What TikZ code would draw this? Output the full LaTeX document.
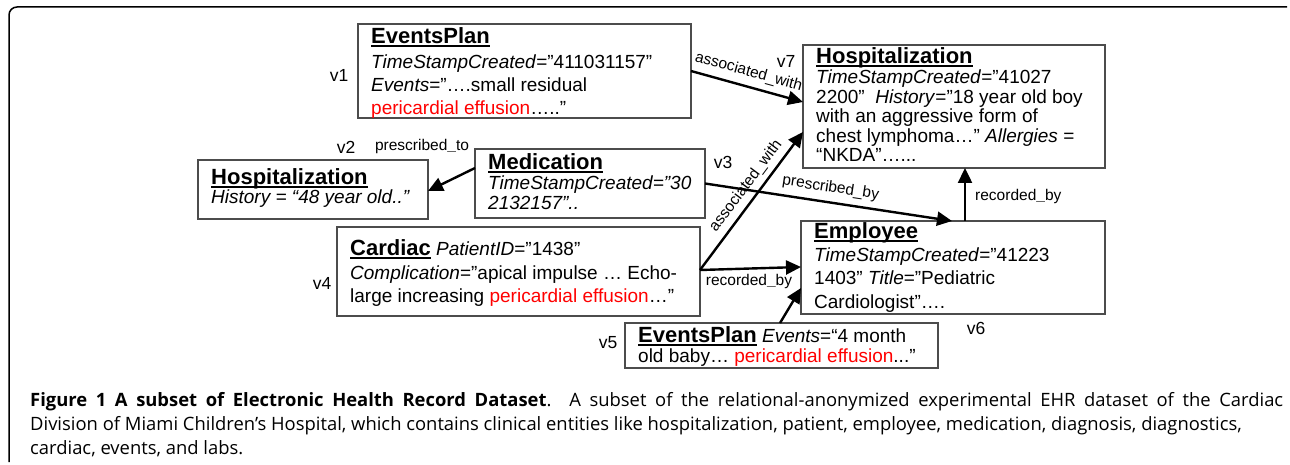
\documentclass[tikz,border=0pt]{standalone}
\usepackage{fontspec}
\setmainfont{Liberation Sans}
\newfontfamily\capfont{Open Sans}
\usetikzlibrary{arrows.meta,calc}
\newcommand\boxtitle[1]{{\fontsize{22}{23}\selectfont\bfseries\setbox0\hbox{#1}\rlap{\rule[-3.6pt]{\wd0}{1.8pt}}\box0}}
\newcommand\bus{{\bfseries\_}}
\begin{document}
\begin{tikzpicture}[x=1pt,y=-1pt,
  box/.style={draw=black!70, line width=1.3pt, anchor=north west, inner sep=0pt, outer sep=0pt},
  txt/.style={anchor=north west, inner sep=0pt, align=left},
  vlab/.style={inner sep=0pt, font=\fontsize{17.5}{20}\selectfont},
  elab/.style={inner sep=0pt, font=\fontsize{15.5}{18}\selectfont},
  conn/.style={line width=2.4pt, -{Triangle[length=15pt,width=14pt]}},
  captext/.style={anchor=base west, inner sep=0pt, font=\capfont\fontsize{18.4}{24}\selectfont},
]
\useasboundingbox (0,0) rectangle (1290,465);
% frame
\draw[line width=1.5pt, rounded corners=8pt] (1287,7) -- (9,7) -- (9,462);

% boxes
\node[box, minimum width=333, minimum height=94] (v1) at (358,24) {};
\node[box, minimum width=302, minimum height=123] (v7) at (803,45) {};
\node[box, minimum width=230, minimum height=59] (v2) at (198,160) {};
\node[box, minimum width=230, minimum height=69] (v3) at (475,149) {};
\node[box, minimum width=363, minimum height=89] (v4) at (337,227) {};
\node[box, minimum width=304, minimum height=93] (v6) at (801,221) {};
\node[box, minimum width=313, minimum height=45] (v5) at (625,323) {};

% texts
\node[txt, font=\fontsize{19}{23}\selectfont] (t1) at ($(v1.north west)+(13,2)$)
 {\rule{0pt}{17pt}\boxtitle{EventsPlan}\\[2pt]
  \textit{TimeStampCreated}=”411031157"\\
  \textit{Events}=”….small residual\\
  \textcolor{red}{pericardial effusion}…..”};
\node[txt, font=\fontsize{19}{19.5}\selectfont] (t7) at ($(v7.north west)+(13,1)$)
 {\rule{0pt}{17pt}\boxtitle{Hospitalization}\\[1pt]
  \textit{TimeStampCreated}=”41027\\
  2200"\ \ \textit{History}=”18 year old boy\\
  with an aggressive form of\\
  chest lymphoma…” \textit{Allergies} =\\
  “NKDA”…...};
\node[txt, font=\fontsize{19}{19}\selectfont] (t2) at ($(v2.north west)+(13,7)$)
 {\rule{0pt}{17pt}\boxtitle{Hospitalization}\\
  \textit{History = “48 year old..”}};
\node[txt, font=\fontsize{19}{20}\selectfont] (t3) at ($(v3.north west)+(13,3)$)
 {\rule{0pt}{17pt}\boxtitle{Medication}\\
  \textit{TimeStampCreated=”30}\\
  \textit{2132157"..}};
\node[txt, font=\fontsize{19}{22.5}\selectfont] (t4) at ($(v4.north west)+(13,11)$)
 {\rule{0pt}{17pt}\boxtitle{Cardiac} \textit{PatientID}=”1438"\\[2pt]
  \textit{Complication}=”apical impulse … Echo-\\
  large increasing \textcolor{red}{pericardial effusion}…”};
\node[txt, font=\fontsize{19}{23.3}\selectfont] (t6) at ($(v6.north west)+(13,0)$)
 {\rule{0pt}{17pt}\boxtitle{Employee}\\
  \textit{TimeStampCreated}=”41223\\
  1403" \textit{Title}=”Pediatric\\
  Cardiologist”….};
\node[txt, font=\fontsize{19}{20}\selectfont] (t5) at ($(v5.north west)+(13,2)$)
 {\rule{0pt}{17pt}\boxtitle{EventsPlan} \textit{Events}=“4 month\\
  old baby… \textcolor{red}{pericardial effusion}..."};

% vertex labels
\node[vlab] (l1) at (339,75) {v1};
\node[vlab] (l2) at (346,147) {v2};
\node[vlab] (l3) at (723,162) {v3};
\node[vlab] (l4) at (322,283) {v4};
\node[vlab] (l5) at (608,343) {v5};
\node[vlab] (l6) at (976,328) {v6};
\node[vlab] (l7) at (786,61) {v7};

% connectors
\draw[conn] (v1.east) -- ($(v7.north west)+(0,57)$)
  node[elab, sloped, pos=0.48, above=6pt] (e1) {associated\_with};
\draw[conn] ($(v3.north west)+(0,19)$) -- ($(v2.north east)+(0,31)$);
\node[elab] (e2) at (422,146) {prescribed\bus to};
\draw[conn] (v3.east) -- ($(v6.north west)+(151,0)$)
  node[elab, sloped, pos=0.5, above=6pt] (e3) {prescribed\_by};
\draw[conn] ($(v4.north east)+(0,43)$) -- ($(v7.north west)+(0,87)$)
  node[elab, sloped, pos=0.55, above=5pt] (e4) {associated\_with};
\draw[conn] ($(v4.north east)+(0,43)$) -- ($(v6.north west)+(0,46)$);
\node[elab] (e5) at (749,281) {recorded\bus by};
\draw[conn] ($(v5.north west)+(155,0)$) -- ($(v6.north west)+(0,67)$);
\draw[conn] ($(v6.north west)+(164,0)$) -- ($(v7.south west)+(162,0)$);
\node[elab, anchor=west] (e6) at (975,196) {recorded\bus by};

% caption
\node[captext] (c1) at (30,406)
 {\makebox[1253pt][s]{\textbf{Figure 1 A subset of Electronic Health Record Dataset}. A subset of the relational-anonymized experimental EHR dataset of the Cardiac}};
\node[captext] (c2) at (30,430)
 {Division of Miami Children’s Hospital, which contains clinical entities like hospitalization, patient, employee, medication, diagnosis, diagnostics,};
\node[captext] (c3) at (30,454)
 {cardiac, events, and labs.};
\end{tikzpicture}
\end{document}
